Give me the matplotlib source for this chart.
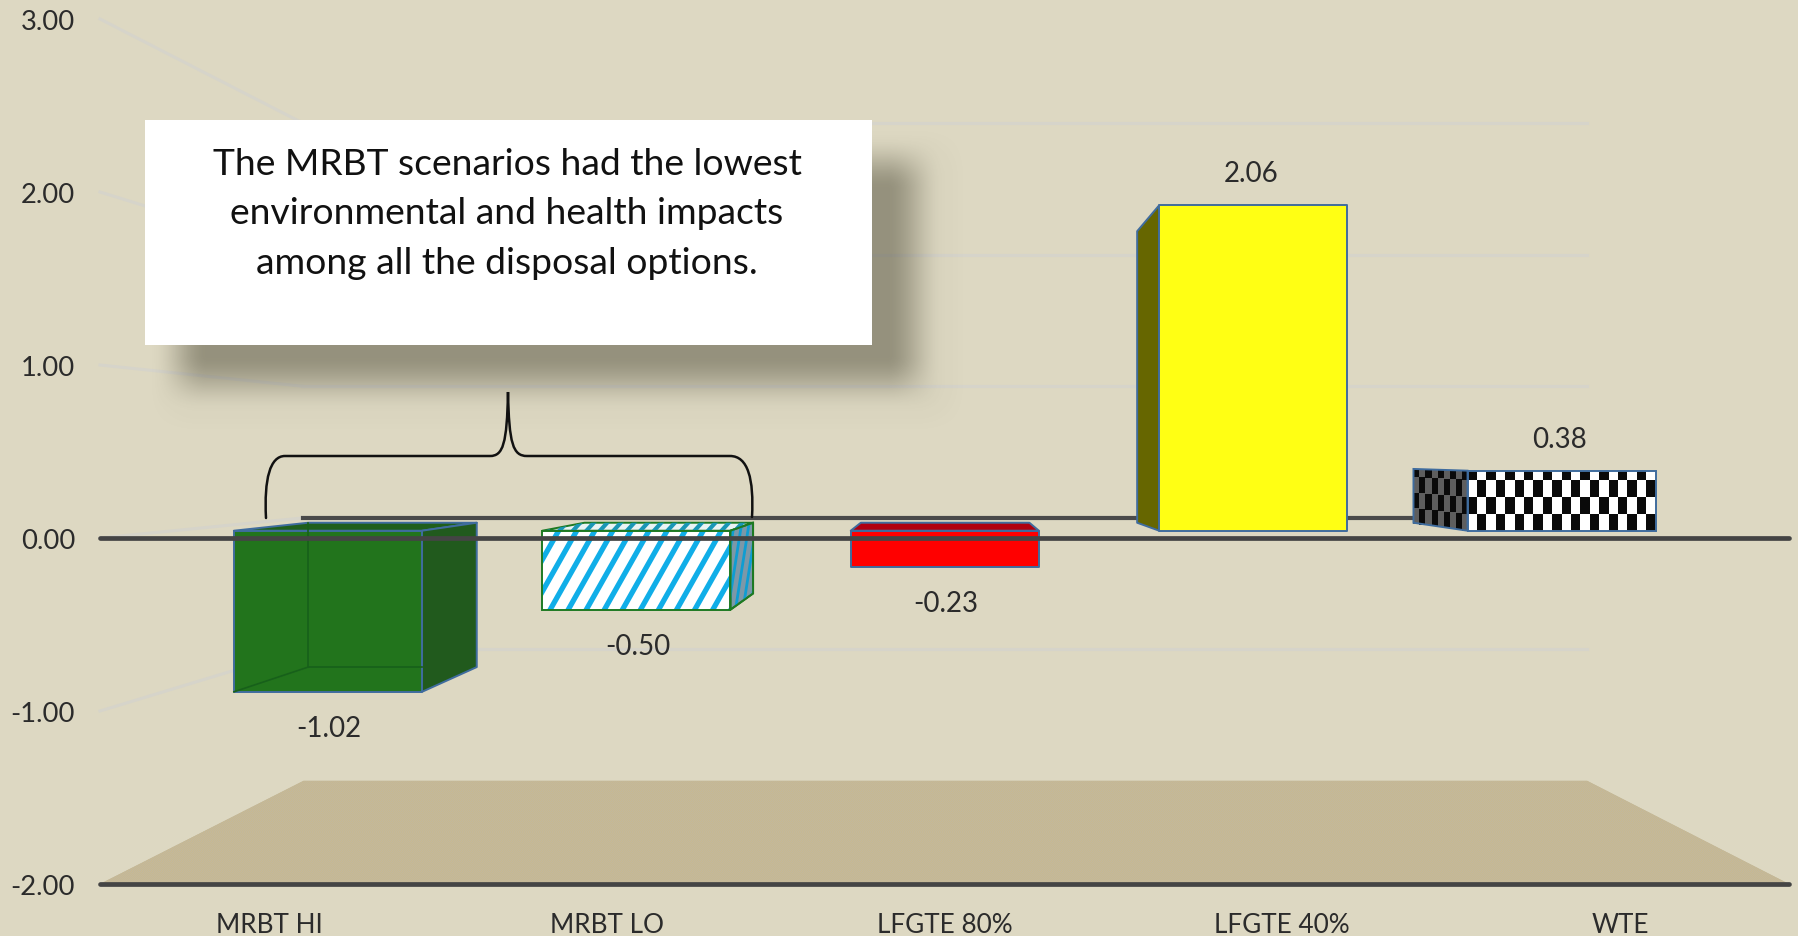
import numpy as np
import matplotlib
matplotlib.use("Agg")
import matplotlib.pyplot as plt
from matplotlib.patches import Polygon, Rectangle, PathPatch
from matplotlib.path import Path
from matplotlib.colors import ListedColormap

categories = ["MRBT HI", "MRBT LO", "LFGTE 80%", "LFGTE 40%", "WTE"]
values = [-1.02, -0.50, -0.23, 2.06, 0.38]
value_labels = ["-1.02", "-0.50", "-0.23", "2.06", "0.38"]
y_ticks = [-2, -1, 0, 1, 2, 3]
y_tick_labels = ["-2.00", "-1.00", "0.00", "1.00", "2.00", "3.00"]
note_lines = ["The MRBT scenarios had the lowest",
              "environmental and health impacts",
              "among all the disposal options."]

W, H = 1798, 937
BG = "#DDD8C2"
FONT = "Lato"
plt.rcParams["font.family"] = [FONT, "DejaVu Sans"]

fig = plt.figure(figsize=(W / 100, H / 100), dpi=100, facecolor=BG)

# Front plane of the 3-D box is the axes: x 0-5, y -2..3
PX_X0, PX_X1 = 100, 1789
PX_ZERO, PX_UNIT = 539, 173
ax = fig.add_axes([PX_X0 / W, (H - PX_ZERO - 2 * PX_UNIT) / H,
                   (PX_X1 - PX_X0) / W, 5 * PX_UNIT / H])
ax.patch.set_alpha(0)
for s in ax.spines.values():
    s.set_visible(False)

# Perspective: vanishing point in data units, s = depth scale
VX, VY = 2.51, 0.485
S_WALL, S_FRONT, S_BACK = 0.76, 0.913, 0.818
BAR_W = 0.61


def proj(x, v, s):
    return VX + s * (x - VX), VY + s * (v - VY)


def poly(pts, fc, ec="none", lw=0, z=3, **kw):
    p = Polygon(pts, closed=True, facecolor=fc, edgecolor=ec, linewidth=lw,
                zorder=z, joinstyle="round", clip_on=False, **kw)
    ax.add_patch(p)
    return p


def face(x0, x1, v0, v1, s):
    return [proj(x0, v0, s), proj(x1, v0, s), proj(x1, v1, s), proj(x0, v1, s)]


def side(x, v0, v1):
    return [proj(x, v0, S_FRONT), proj(x, v0, S_BACK), proj(x, v1, S_BACK), proj(x, v1, S_FRONT)]


def top(x0, x1, v):
    return [proj(x0, v, S_FRONT), proj(x1, v, S_FRONT), proj(x1, v, S_BACK), proj(x0, v, S_BACK)]


def stripes(clip, x0, x1, v0, v1, color, lw, step, lean, z):
    for x in np.arange(x0 - abs(lean), x1 + abs(lean), step):
        ln, = ax.plot([x, x + lean], [v0, v1], color=color, lw=lw, zorder=z,
                      solid_capstyle="butt")
        ln.set_clip_path(clip)


# Walls and floor
GRID = "#D6D4CA"
for t in y_ticks[1:]:
    xb, yb = proj(0, t, S_WALL)
    ax.plot([0, xb], [t, yb], color=GRID, lw=2.2, zorder=1, clip_on=False)
    if t != 0:
        xe, _ = proj(5, t, S_WALL)
        ax.plot([xb, xe], [yb, yb], color=GRID, lw=2.2, zorder=1, clip_on=False)

floor = poly([proj(0, -2, 1), proj(0, -2, S_WALL), proj(5, -2, S_WALL), proj(5, -2, 1)],
             "#C4B896", z=1)
_, floor_back = proj(0, -2, S_WALL)
nrow, ncol = 105, 1689
dither = np.indices((nrow, ncol)).sum(axis=0) % 2
floor_img = np.where(dither[..., None] == 0,
                     np.array([0.788, 0.725, 0.565]),
                     np.array([0.757, 0.725, 0.620]))
im = ax.imshow(floor_img, extent=(0, 5, -2, floor_back), aspect="auto",
               interpolation="nearest", zorder=1.1)
im.set_clip_path(floor)

xb0, y0b = proj(0, 0, S_WALL)
xe0, _ = proj(5, 0, S_WALL)
ax.plot([xb0, xe0], [y0b, y0b], color="#4A4A4A", lw=3, zorder=2, clip_on=False)

EDGE = "#3F6C9E"
GEDGE = "#1E7A22"
LW = 1.4

# MRBT HI : see-through dark green box
i = 0
x0, x1 = i + 0.5 - BAR_W / 2, i + 0.5 + BAR_W / 2
v = values[i]
poly(top(x0, x1, 0), "#1F5F1B", EDGE, LW)
poly(side(x1, 0, v), "#215A1D", EDGE, LW)
poly(face(x0, x1, 0, v, S_FRONT), "#22741C", EDGE, LW, z=4)
a, b = proj(x0, 0, S_BACK), proj(x0, v, S_BACK)
d = proj(x0, v, S_FRONT)
ax.plot([a[0], b[0]], [a[1], b[1]], color="#17601A", lw=1.2, zorder=5)
ax.plot([b[0], proj(x1, v, S_FRONT)[0]], [b[1], b[1]], color="#17601A", lw=1.2, zorder=5)
ax.plot([d[0], b[0]], [d[1], b[1]], color="#17601A", lw=1.2, zorder=5)

# MRBT LO : white box, blue stripes
i = 1
x0, x1 = i + 0.5 - BAR_W / 2, i + 0.5 + BAR_W / 2
v = values[i]
pt = poly(top(x0, x1, 0), "#EAF4F4", GEDGE, LW, z=3)
tx0, _ = proj(x0, 0, S_FRONT)
tx1, _ = proj(x1, 0, S_FRONT)
stripes(pt, tx0, tx1, 0.03, 0.105, "#1A97B5", 3.0, 0.04, 0.035, 3.1)
ps = poly(side(x1, 0, v), "#7C98A8", GEDGE, LW, z=3)
sd0, _ = proj(x1, 0, S_FRONT)
sd1, _ = proj(x1, 0, S_BACK)
stripes(ps, sd0 - 0.03, sd1 + 0.03, v, 0.12, "#0F9DD2", 2.0, 0.022, 0.05, 3.1)
ax.add_patch(Polygon(side(x1, 0, v), closed=True, fill=False, edgecolor=GEDGE, lw=LW, zorder=3.2))
pf = poly(face(x0, x1, 0, v, S_FRONT), "#FFFFFF", z=4)
stripes(pf, tx0, tx1, v * 1.02, 0.06, "#10AEE8", 3.8, 0.0535, 0.165, 4.1)
ax.add_patch(Polygon(face(x0, x1, 0, v, S_FRONT), closed=True, fill=False, edgecolor=GEDGE, lw=LW, zorder=4.2))

# LFGTE 80% : red
i = 2
x0, x1 = i + 0.5 - BAR_W / 2, i + 0.5 + BAR_W / 2
v = values[i]
poly(top(x0, x1, 0), "#B00010", EDGE, LW)
poly(face(x0, x1, 0, v, S_FRONT), "#FF0000", EDGE, LW, z=4)

# LFGTE 40% : yellow
i = 3
x0, x1 = i + 0.5 - BAR_W / 2, i + 0.5 + BAR_W / 2
v = values[i]
poly(side(x0, 0, v), "#666600", EDGE, LW)
poly(face(x0, x1, 0, v, S_FRONT), "#FFFF14", EDGE, LW, z=4)

# WTE : checkerboard
i = 4
x0, x1 = i + 0.5 - BAR_W / 2, i + 0.5 + BAR_W / 2
v = values[i]
rows = np.append(np.arange(0, v - 0.02, 0.108), v)
cols = np.linspace(x0, x1, 21)
XX, YY = np.meshgrid(cols, rows)
FX, FY = proj(XX, YY, S_FRONT)
C = (np.indices((len(rows) - 1, len(cols) - 1)).sum(axis=0) % 2).astype(float)
ax.pcolormesh(FX, FY, C, cmap=ListedColormap(["#FFFFFF", "#0A0A0A"]), zorder=4, shading="flat", linewidth=0)
depth = np.linspace(S_FRONT, S_BACK, 10)
DD, YY2 = np.meshgrid(depth, rows)
SX, SY = proj(x0, YY2, DD)
C2 = (np.indices((len(rows) - 1, len(depth) - 1)).sum(axis=0) % 2).astype(float)
ax.pcolormesh(SX, SY, C2, cmap=ListedColormap(["#5E5E5E", "#0A0A0A"]), zorder=3, shading="flat", linewidth=0)
ax.add_patch(Polygon(side(x0, 0, v), closed=True, fill=False, edgecolor=EDGE, lw=LW, zorder=3.2))
ax.add_patch(Polygon(face(x0, x1, 0, v, S_FRONT), closed=True, fill=False, edgecolor=EDGE, lw=LW, zorder=4.2))

# Front lines
ax.plot([0, 5], [0, 0], color="#444444", lw=3.4, zorder=6, clip_on=False, solid_capstyle="round")
ax.plot([0, 5], [-2, -2], color="#444444", lw=3.4, zorder=6, clip_on=False, solid_capstyle="round")

# Value labels
TXT = "#2B2B2B"
for i, (val, lab) in enumerate(zip(values, value_labels)):
    px, py = proj(i + 0.5, val, S_FRONT)
    off = (-1.5, 23) if val > 0 else (0.8, -26)
    ax.annotate(lab, xy=(px, py), xytext=off, textcoords="offset points",
                ha="center", va="center", fontsize=20, color=TXT, zorder=7, annotation_clip=False)

# Axis ticks
ax.set_yticks(y_ticks)
ax.set_yticklabels(y_tick_labels, fontsize=19.7, color=TXT)
ax.set_xticks([i + 0.5 for i in range(len(categories))])
ax.set_xticklabels(categories, fontsize=18.8, color=TXT)
ax.tick_params(axis="both", length=0)
ax.tick_params(axis="y", pad=18)
ax.tick_params(axis="x", pad=20)
ax.set_xlim(0, 5)
ax.set_ylim(-2, 3)

# Overlay in pixel units: callout, shadow, brace
ov = fig.add_axes([0, 0, 1, 1], zorder=10)
ov.patch.set_alpha(0)
ov.axis("off")


def smooth(t):
    t = np.clip(t, 0, 1)
    return t * t * (3 - 2 * t)


def soft_rect(left, right, upper, lower, sw):
    gx = np.arange(W) + 0.5
    gy = np.arange(H) + 0.5
    ax_ = smooth((gx - left + sw) / (2 * sw)) * (1 - smooth((gx - right + sw) / (2 * sw)))
    ay_ = smooth((gy - upper + sw) / (2 * sw)) * (1 - smooth((gy - lower + sw) / (2 * sw)))
    return np.outer(ay_, ax_)


img = np.zeros((H, W, 4))
img[..., :3] = (0.16, 0.15, 0.08)
img[..., 3] = 0.36 * soft_rect(180, 915, 163, 384, 28) + 0.04 * soft_rect(170, 945, 150, 412, 30)
ov.imshow(img, extent=(0, W, H, 0), aspect="auto", interpolation="nearest", zorder=1)
ov.set_xlim(0, W)
ov.set_ylim(H, 0)
ov.add_patch(Rectangle((144.5, 121), 727.5, 225, facecolor="white", edgecolor="none", zorder=2))
for line, yy in zip(note_lines, [164.5, 214, 264]):
    ov.text(507, yy, line, ha="center", va="center", fontsize=26.8, color="#111111", zorder=3)

brace = Path([(266, 519), (264, 480), (270, 457), (285, 457),
              (490, 457), (503, 457), (507, 445), (508, 393),
              (509, 445), (513, 457), (527, 457),
              (730, 457), (748, 457), (754, 480), (752, 518)],
             [Path.MOVETO, Path.CURVE4, Path.CURVE4, Path.CURVE4,
              Path.LINETO, Path.CURVE4, Path.CURVE4, Path.CURVE4,
              Path.CURVE4, Path.CURVE4, Path.CURVE4,
              Path.LINETO, Path.CURVE4, Path.CURVE4, Path.CURVE4])
ov.add_patch(PathPatch(brace, fill=False, edgecolor="#111111", lw=1.8, zorder=3, capstyle="round"))

fig.savefig("out.png", dpi=100, facecolor=BG)
